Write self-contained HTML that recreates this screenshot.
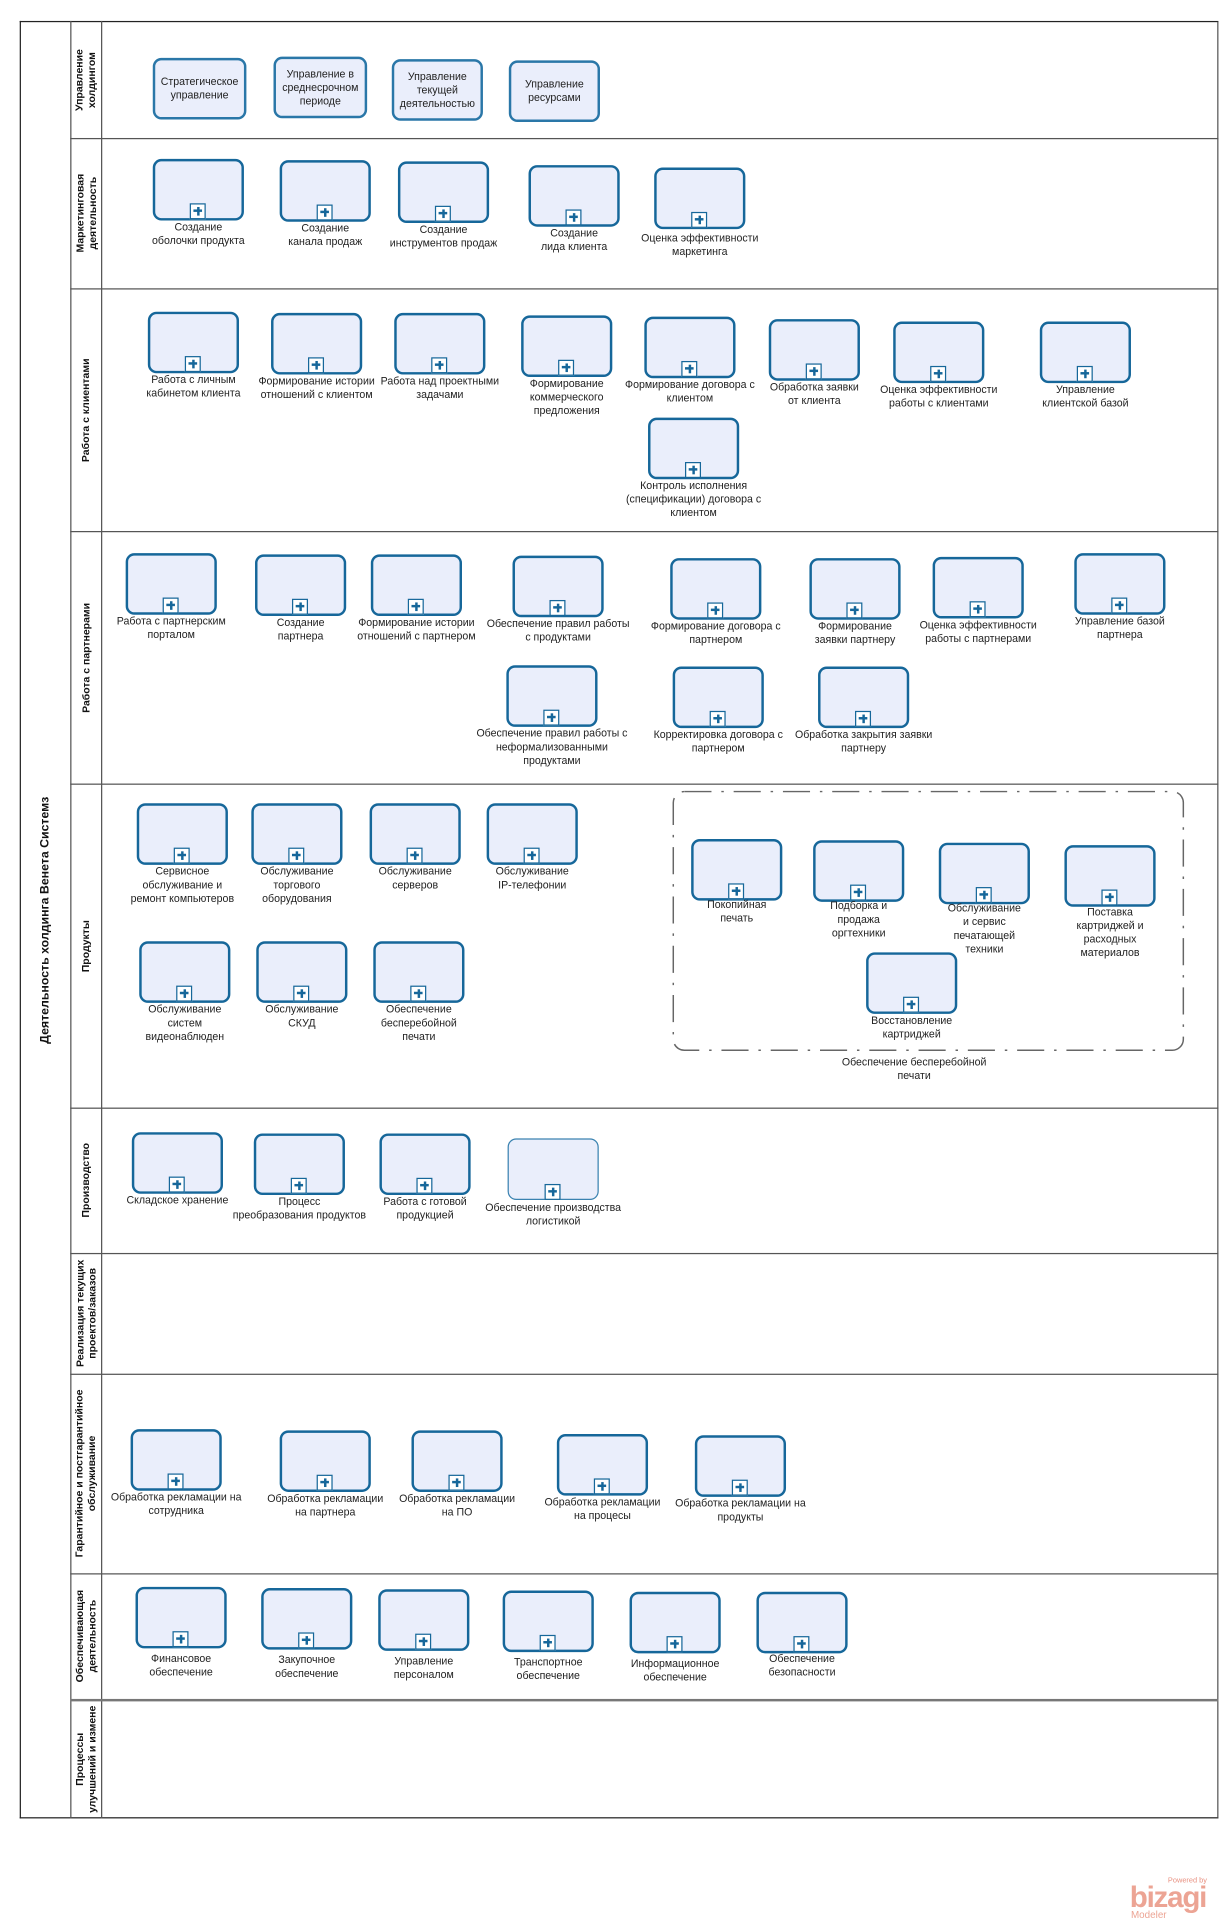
<!DOCTYPE html>
<html><head><meta charset="utf-8"><style>
html,body{margin:0;padding:0;background:#fff}
body{width:1232px;height:1922px;overflow:hidden;position:relative;font-family:"Liberation Sans","DejaVu Sans",sans-serif}
#w{position:absolute;left:0;top:0;width:1000px;height:1560px;transform:scale(1.232);transform-origin:0 0}
.ln{position:absolute;left:57px;width:932px;border-top:1px solid #555}
.b{position:absolute;width:74px;height:50px;border:2.5px solid #16679a;border-radius:7px;background:#eaeefb;box-sizing:border-box}
.b .p{position:absolute;left:50%;bottom:-1px;margin-left:-7px;width:13px;height:13px;box-sizing:border-box;border:1.3px solid #16679a;background:#fff}
.b .p::before{content:"";position:absolute;left:4.5px;top:1.5px;width:2.2px;height:7.5px;background:#16679a}
.b .p::after{content:"";position:absolute;left:1.8px;top:4.2px;width:7.5px;height:2.2px;background:#16679a}
.b .t{position:absolute;top:100%;left:-34px;right:-34px;margin-top:2px;text-align:center;font-size:8.6px;line-height:11px;color:#222}
.m{position:absolute;width:76px;height:50px;border:2px solid #2a77a8;border-radius:7px;background:#eaeefb;box-sizing:border-box;display:flex;align-items:center;justify-content:center;text-align:center;font-size:8.6px;line-height:11px;color:#222}
.v{position:absolute;display:flex;align-items:center;justify-content:center;text-align:center;font-weight:bold;font-size:8.5px;line-height:10px;color:#111}
.v span{transform:rotate(-90deg);white-space:nowrap;display:block}
</style></head><body><div id="w">
<div style="position:absolute;left:16px;top:17px;width:973px;height:1459px;border:1px solid #222;border-right:1px solid #555;box-sizing:border-box"></div>
<div style="position:absolute;left:57px;top:17px;height:1459px;border-left:1px solid #555"></div>
<div style="position:absolute;left:82px;top:17px;height:1459px;border-left:1px solid #555"></div>
<div class="ln" style="top:112px"></div>
<div class="ln" style="top:234px"></div>
<div class="ln" style="top:431px"></div>
<div class="ln" style="top:636px"></div>
<div class="ln" style="top:899px"></div>
<div class="ln" style="top:1017px"></div>
<div class="ln" style="top:1115px"></div>
<div class="ln" style="top:1277px"></div>
<div class="ln" style="top:1379px;border-top:2px solid #777"></div>
<div class="v" style="left:17px;top:17px;width:40px;height:1459px;font-size:10px"><span>Деятельность холдинга Венета Системз</span></div>
<div class="v" style="left:57px;top:17px;width:25px;height:95px"><span>Управление<br>холдингом</span></div>
<div class="v" style="left:57px;top:112px;width:25px;height:122px"><span>Маркетинговая<br>деятельность</span></div>
<div class="v" style="left:57px;top:234px;width:25px;height:197px"><span>Работа с клиентами</span></div>
<div class="v" style="left:57px;top:431px;width:25px;height:205px"><span>Работа с партнерами</span></div>
<div class="v" style="left:57px;top:636px;width:25px;height:263px"><span>Продукты</span></div>
<div class="v" style="left:57px;top:899px;width:25px;height:118px"><span>Производство</span></div>
<div class="v" style="left:57px;top:1017px;width:25px;height:98px"><span>Реализация текущих<br>проектов/заказов</span></div>
<div class="v" style="left:57px;top:1115px;width:25px;height:162px"><span>Гарантийное и постгарантийное<br>обслуживание</span></div>
<div class="v" style="left:57px;top:1277px;width:25px;height:102px"><span>Обеспечивающая<br>деятельность</span></div>
<div class="v" style="left:57px;top:1379px;width:25px;height:97px"><span>Процессы<br>улучшений и измене</span></div>
<div class="m" style="left:124px;top:47px">Стратегическое<br>управление</div>
<div class="m" style="left:222px;top:46px">Управление в<br>среднесрочном<br>периоде</div>
<div class="m" style="left:318px;top:48px;width:74px">Управление<br>текущей<br>деятельностью</div>
<div class="m" style="left:413px;top:49px;width:74px">Управление<br>ресурсами</div>
<div class="b" style="left:124px;top:129px"><i class="p"></i><div class="t">Создание<br>оболочки продукта</div></div>
<div class="b" style="left:227px;top:130px"><i class="p"></i><div class="t">Создание<br>канала продаж</div></div>
<div class="b" style="left:323px;top:131px"><i class="p"></i><div class="t">Создание<br>инструментов продаж</div></div>
<div class="b" style="left:429px;top:134px"><i class="p"></i><div class="t">Создание<br>лида клиента</div></div>
<div class="b" style="left:531px;top:136px"><i class="p"></i><div class="t" style="margin-top:4px">Оценка эффективности<br>маркетинга</div></div>
<div class="b" style="left:120px;top:253px"><i class="p"></i><div class="t">Работа с личным<br>кабинетом клиента</div></div>
<div class="b" style="left:220px;top:254px"><i class="p"></i><div class="t">Формирование истории<br>отношений с клиентом</div></div>
<div class="b" style="left:320px;top:254px"><i class="p"></i><div class="t">Работа над проектными<br>задачами</div></div>
<div class="b" style="left:423px;top:256px"><i class="p"></i><div class="t">Формирование<br>коммерческого<br>предложения</div></div>
<div class="b" style="left:523px;top:257px"><i class="p"></i><div class="t">Формирование договора с<br>клиентом</div></div>
<div class="b" style="left:624px;top:259px"><i class="p"></i><div class="t">Обработка заявки<br>от клиента</div></div>
<div class="b" style="left:725px;top:261px"><i class="p"></i><div class="t">Оценка эффективности<br>работы с клиентами</div></div>
<div class="b" style="left:844px;top:261px"><i class="p"></i><div class="t">Управление<br>клиентской базой</div></div>
<div class="b" style="left:526px;top:339px"><i class="p"></i><div class="t">Контроль исполнения<br>(спецификации) договора с<br>клиентом</div></div>
<div class="b" style="left:102px;top:449px"><i class="p"></i><div class="t">Работа с партнерским<br>порталом</div></div>
<div class="b" style="left:207px;top:450px"><i class="p"></i><div class="t">Создание<br>партнера</div></div>
<div class="b" style="left:301px;top:450px"><i class="p"></i><div class="t">Формирование истории<br>отношений с партнером</div></div>
<div class="b" style="left:416px;top:451px"><i class="p"></i><div class="t">Обеспечение правил работы<br>с продуктами</div></div>
<div class="b" style="left:544px;top:453px"><i class="p"></i><div class="t">Формирование договора с<br>партнером</div></div>
<div class="b" style="left:657px;top:453px"><i class="p"></i><div class="t">Формирование<br>заявки партнеру</div></div>
<div class="b" style="left:757px;top:452px"><i class="p"></i><div class="t">Оценка эффективности<br>работы с партнерами</div></div>
<div class="b" style="left:872px;top:449px"><i class="p"></i><div class="t">Управление базой<br>партнера</div></div>
<div class="b" style="left:411px;top:540px"><i class="p"></i><div class="t">Обеспечение правил работы с<br>неформализованными<br>продуктами</div></div>
<div class="b" style="left:546px;top:541px"><i class="p"></i><div class="t">Корректировка договора с<br>партнером</div></div>
<div class="b" style="left:664px;top:541px"><i class="p"></i><div class="t">Обработка закрытия заявки<br>партнеру</div></div>
<div class="b" style="left:111px;top:652px"><i class="p"></i><div class="t">Сервисное<br>обслуживание и<br>ремонт компьютеров</div></div>
<div class="b" style="left:204px;top:652px"><i class="p"></i><div class="t">Обслуживание<br>торгового<br>оборудования</div></div>
<div class="b" style="left:300px;top:652px"><i class="p"></i><div class="t">Обслуживание<br>серверов</div></div>
<div class="b" style="left:395px;top:652px"><i class="p"></i><div class="t">Обслуживание<br>IP-телефонии</div></div>
<div class="b" style="left:113px;top:764px"><i class="p"></i><div class="t">Обслуживание<br>систем<br>видеонаблюден</div></div>
<div class="b" style="left:208px;top:764px"><i class="p"></i><div class="t">Обслуживание<br>СКУД</div></div>
<div class="b" style="left:303px;top:764px"><i class="p"></i><div class="t">Обеспечение<br>бесперебойной<br>печати</div></div>
<svg style="position:absolute;left:545px;top:641px" width="418" height="214"><rect x="1.5" y="1.5" width="414" height="210" rx="9" fill="none" stroke="#666" stroke-width="1.2" stroke-dasharray="22 8 2 8"/></svg>
<div style="position:absolute;left:642px;top:857px;width:200px;text-align:center;font-size:8.6px;line-height:11px;color:#222">Обеспечение бесперебойной<br>печати</div>
<div class="b" style="left:561px;top:681px"><i class="p"></i><div class="t" style="margin-top:0">Покопийная<br>печать</div></div>
<div class="b" style="left:660px;top:682px"><i class="p"></i><div class="t" style="margin-top:0">Подборка и<br>продажа<br>оргтехники</div></div>
<div class="b" style="left:762px;top:684px"><i class="p"></i><div class="t" style="margin-top:0">Обслуживание<br>и сервис<br>печатающей<br>техники</div></div>
<div class="b" style="left:864px;top:686px"><i class="p"></i><div class="t" style="margin-top:1px">Поставка<br>картриджей и<br>расходных<br>материалов</div></div>
<div class="b" style="left:703px;top:773px"><i class="p"></i><div class="t">Восстановление<br>картриджей</div></div>
<div class="b" style="left:107px;top:919px"><i class="p"></i><div class="t">Складское хранение</div></div>
<div class="b" style="left:206px;top:920px"><i class="p"></i><div class="t">Процесс<br>преобразования продуктов</div></div>
<div class="b" style="left:308px;top:920px"><i class="p"></i><div class="t">Работа с готовой<br>продукцией</div></div>
<div class="b" style="left:412px;top:924px;border:1.5px solid #3a82b0"><i class="p"></i><div class="t">Обеспечение производства<br>логистикой</div></div>
<div class="b" style="left:106px;top:1160px"><i class="p"></i><div class="t">Обработка рекламации на<br>сотрудника</div></div>
<div class="b" style="left:227px;top:1161px"><i class="p"></i><div class="t">Обработка рекламации<br>на партнера</div></div>
<div class="b" style="left:334px;top:1161px"><i class="p"></i><div class="t">Обработка рекламации<br>на ПО</div></div>
<div class="b" style="left:452px;top:1164px"><i class="p"></i><div class="t">Обработка рекламации<br>на процесы</div></div>
<div class="b" style="left:564px;top:1165px"><i class="p"></i><div class="t">Обработка рекламации на<br>продукты</div></div>
<div class="b" style="left:110px;top:1288px"><i class="p"></i><div class="t" style="margin-top:5px">Финансовое<br>обеспечение</div></div>
<div class="b" style="left:212px;top:1289px"><i class="p"></i><div class="t" style="margin-top:5px">Закупочное<br>обеспечение</div></div>
<div class="b" style="left:307px;top:1290px"><i class="p"></i><div class="t" style="margin-top:5px">Управление<br>персоналом</div></div>
<div class="b" style="left:408px;top:1291px"><i class="p"></i><div class="t" style="margin-top:5px">Транспортное<br>обеспечение</div></div>
<div class="b" style="left:511px;top:1292px"><i class="p"></i><div class="t" style="margin-top:5px">Информационное<br>обеспечение</div></div>
<div class="b" style="left:614px;top:1292px"><i class="p"></i><div class="t" style="margin-top:1px">Обеспечение<br>безопасности</div></div>
<div style="position:absolute;left:948px;top:1524px;font-size:6px;color:#e89080">Powered by</div>
<div style="position:absolute;left:917px;top:1527px;font-size:24px;font-weight:bold;color:#eca494;letter-spacing:-1px">bizagi</div>
<div style="position:absolute;left:918px;top:1550px;font-size:8px;color:#eca494">Modeler</div>
</div></body></html>
